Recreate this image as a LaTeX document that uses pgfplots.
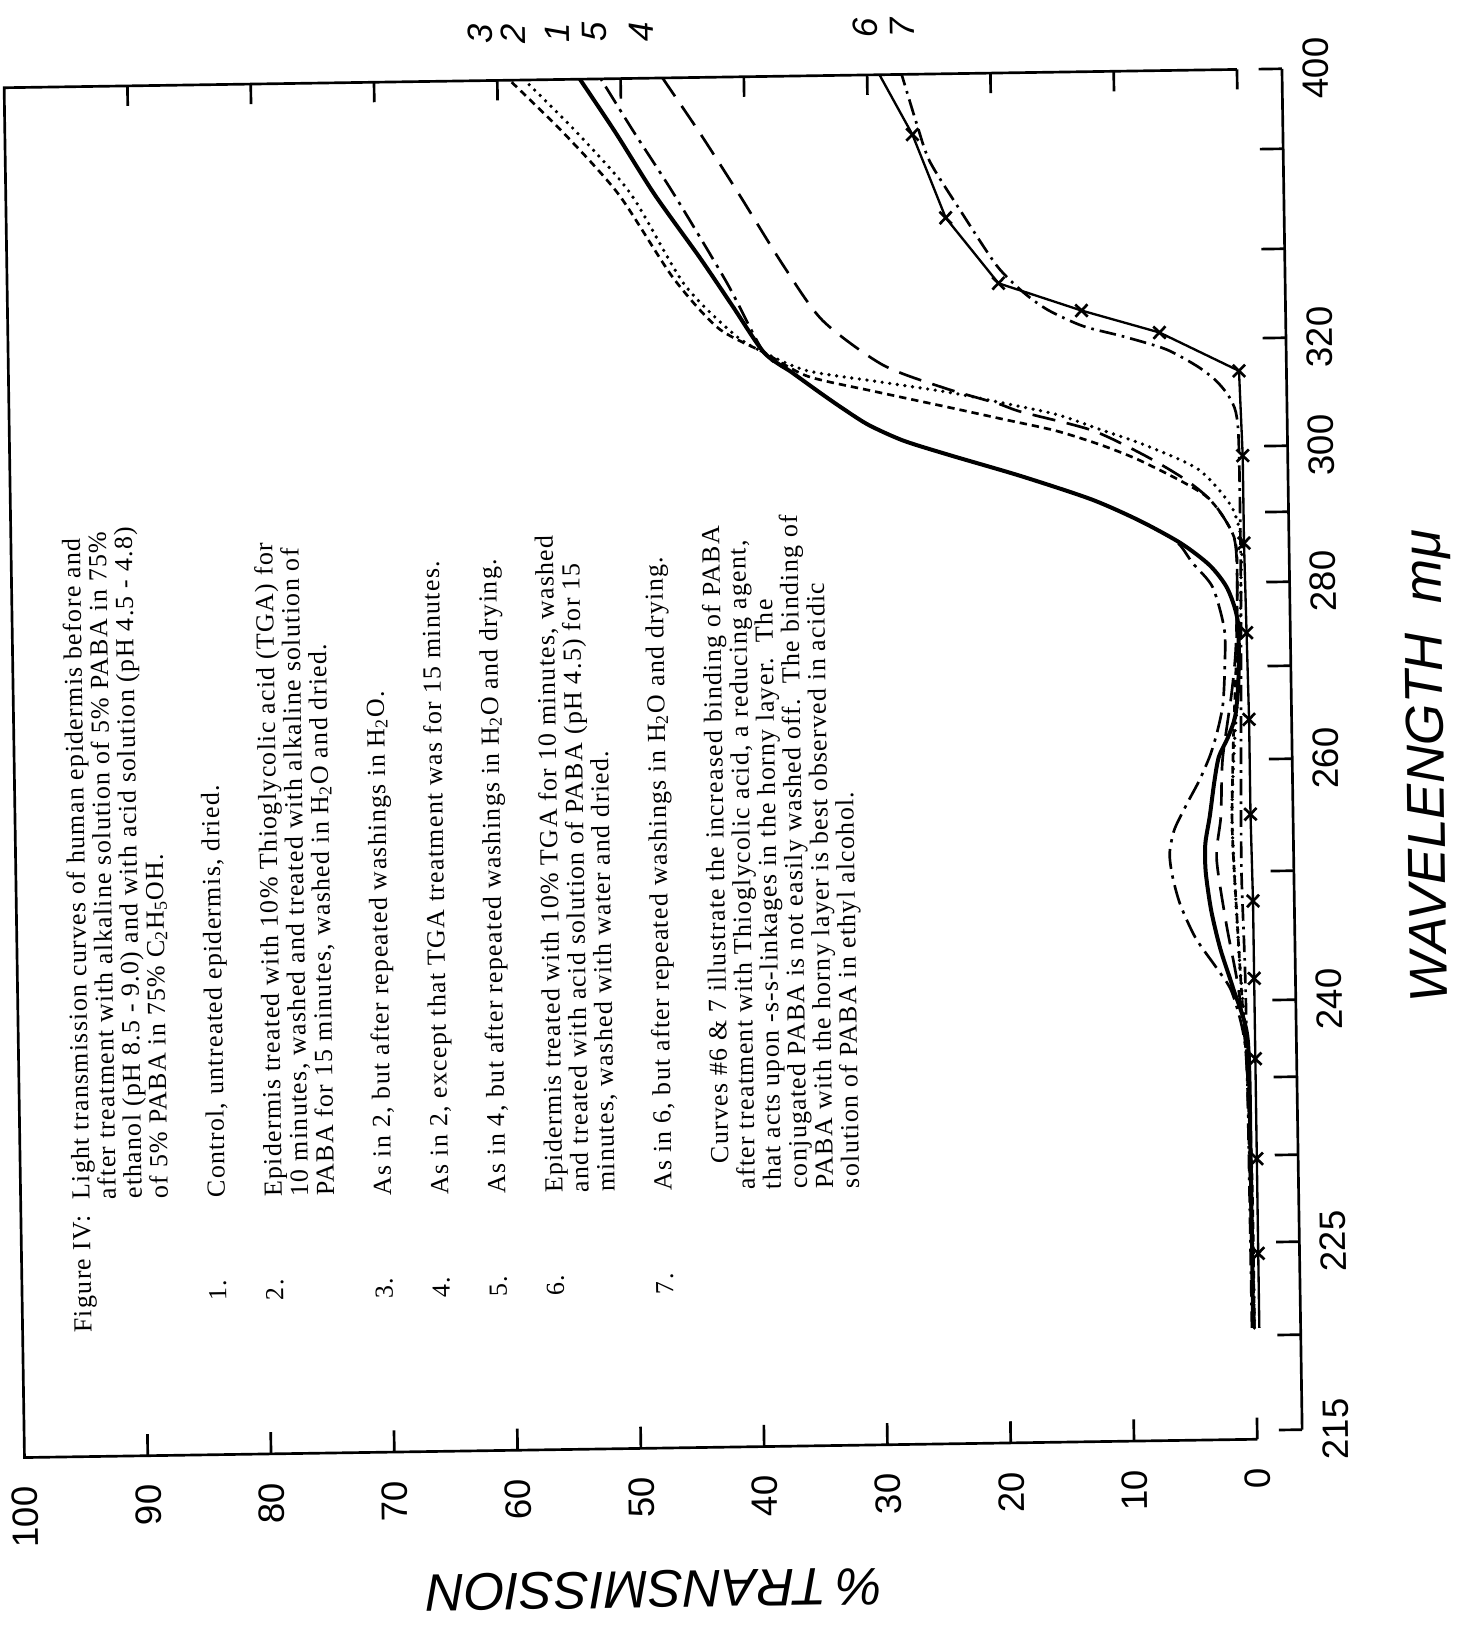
\documentclass[border=0pt]{standalone}
\usepackage{pgfplots}
\pgfplotsset{compat=1.18}
\usepackage{pgfplotstable}
\usepackage{fontspec}
\setmainfont{Liberation Serif}
\setsansfont{Liberation Sans}
\newfontfamily\typefont[LetterSpace=5]{Liberation Serif}

% columns: wavelength (m-mu), % transmission
\pgfplotstableread{
lam T
220.4 0.2
230 0.2
237.5 0.3
240.9 1.4
244 2.4
247 3.1
250 3.5
252.5 3.5
255 3.1
258 2.7
260.3 2.3
262.5 1.5
264.8 0.9
269 0.6
275.4 0.6
279.3 1.4
282.5 2.8
285.7 5.1
289 8.4
292.3 12.3
296.0 18.0
299.3 23.7
302 27.5
305 30.3
308 32.3
311.1 34.2
315 36.5
318.7 38.7
329 41.2
340 43.8
359.2 47.4
380 50.5
400 53.3
}\cone
\pgfplotstableread{
lam T
220.4 0.1
230 0.2
237 0.4
242 0.8
248 1.1
255 1.3
262 1.0
270 0.5
280 0.3
286.0 0.2
291.0 1.0
296.6 3.6
300.5 7.9
303.5 11.5
306.4 15.0
308.6 19.2
310.8 23.7
313 29.5
315.2 35.2
318.7 38.7
322.6 41.1
334.1 45.1
359.3 49.3
380 53.6
400 57.8
}\ctwo
\pgfplotstableread{
lam T
220.4 0.1
228 0.1
235 0.3
240 0.7
246 1.0
254 1.3
262 1.1
270 0.8
280 0.6
286.5 0.8
292.5 3.0
297.7 7.9
300.5 11.3
303.4 15.1
305.7 19.4
308.0 23.7
311.2 29.8
314.2 35.2
318.7 38.7
324.1 42.4
335.6 46.0
359.3 50.3
380 54.7
400 59.0
}\cthree
\pgfplotstableread{
lam T
220.4 0.1
228 0.2
236 0.4
241 1.0
246 1.9
251.2 2.6
255 2.2
260 2.0
267 1.2
272 0.8
280 0.6
286.4 0.8
291.4 2.4
295 4.6
298.8 7.9
303.4 12.2
307.0 17.9
308.6 19.8
311.7 24.2
316.1 29.1
325.4 33.9
337.8 37.0
358.6 40.5
378.9 43.6
400 46.6
}\cfour
\pgfplotstableread{
lam T
220.4 0.2
230 0.3
237 0.5
240.6 1.5
242.5 2.7
244.9 4.4
247.5 5.6
249.7 6.2
251.7 6.4
253.8 6.0
256 5.0
258.2 3.9
260.5 3.0
263 2.4
266 1.9
270.2 1.7
274.5 1.7
279.5 2.6
282.9 4.2
286 5.5
289 8.4
292.3 12.3
296.0 18.0
299.3 23.7
302 27.5
305 30.3
308 32.3
311.1 34.2
315 36.5
318.7 38.7
334.1 41.6
359.0 45.8
380 49.0
400 51.6
}\cfive
\pgfplotstableread{
lam T
220.4 -0.3
224.4 -0.3
229.8 -0.3
236.2 -0.3
241.7 -0.3
247.7 -0.3
255.1 -0.2
264.3 -0.2
274.0 -0.1
285.6 0
298.6 0
314.0 0.2
321.6 6.6
326.8 12.9
333.2 19.6
350.8 23.8
377.4 26.4
400 29.0
}\csix
\pgfplotstableread{
lam T
224.4 -0.3
229.8 -0.3
236.2 -0.3
241.7 -0.3
247.7 -0.3
255.1 -0.2
264.3 -0.2
274.0 -0.1
285.6 0
298.6 0
314.0 0.2
321.6 6.6
326.8 12.9
333.2 19.6
350.8 23.8
377.4 26.4
}\csixmarks
\pgfplotstableread{
lam T
220.4 0.3
240 0.4
250 0.6
260 0.5
280 0.3
300 0.3
306.3 0.5
309.5 1.1
312.3 2.1
315 3.6
318.2 6.1
320.8 9.5
323.3 12.8
327 15.6
331.1 17.6
337.1 19.7
351.7 22.4
367.6 25.0
380.8 26.0
400 27.2
}\cseven

\begin{document}
\begin{tikzpicture}
\path[use as bounding box] (-4.5pt,-54.3pt) rectangle (434.1pt,434.1pt);
\begin{scope}[transform canvas={rotate around={0.85:(215pt,190pt)}}]
\begin{axis}[
  at={(0pt,0pt)}, anchor=south west,
  scale only axis, width=383.4pt, height=411pt,
  x dir=reverse, xmin=-3.65, xmax=100,
  ymin=214.53, ymax=400,
  y coord trafo/.code={\pgfmathparse{(#1<220)?(-1438+19*(#1-215)):((#1<225)?(-1343+18.6*(#1-220)):((#1<230)?(-1250+17.4*(#1-225)):((#1<235)?(-1163+15.6*(#1-230)):((#1<240)?(-1085+15.4*(#1-235)):((#1<250)?(-1008+12.9*(#1-240)):((#1<260)?(-879+11.2*(#1-250)):((#1<270)?(-767+9.3*(#1-260)):((#1<280)?(-674+8.4*(#1-270)):((#1<290)?(-590+7*(#1-280)):((#1<300)?(-520+6.6*(#1-290)):((#1<320)?(-454+5.4*(#1-300)):((#1<340)?(-346+4.45*(#1-320)):((#1<370)?(-257+3.3333*(#1-340)):(-157+2.6667*(#1-370))))))))))))))))}},
  axis line style={draw=none},
  tick style={draw=none},
  major tick length=0pt,
  xtick={0,10,20,30,40,50,60,70,80,90,100},
  xticklabels={0,10,20,30,40,50,60,70,80,90,100},
  xticklabel style={rotate=90, anchor=east, inner sep=0pt, font=\sffamily\fontsize{11}{11}\selectfont},
  xticklabel shift=8.5pt,
  ytick={215,225,240,260,280,300,320,400},
  yticklabels={215,225,240,260,280,300,320,400},
  yticklabel pos=right,
  yticklabel style={rotate=90, anchor=north, inner sep=0pt, font=\sffamily\fontsize{11}{11}\selectfont},
  yticklabel shift=6pt,
  clip=false,
]
% frame
\draw[line width=0.8pt] (axis cs:0,400) -- (axis cs:100,400) -- (axis cs:100,214.53) -- (axis cs:0,214.53);
\pgfplotsinvokeforeach{0,10,20,30,40,50,60,70,80,90}{
  \draw[line width=0.8pt] (axis cs:#1,400) -- ++(0pt,-6pt);
  \draw[line width=0.8pt] (axis cs:#1,214.53) -- ++(0pt,6.5pt);
}
% wavelength scale
\draw[line width=0.8pt] (axis cs:-3.65,215) -- (axis cs:-3.65,400);
\pgfplotsinvokeforeach{215,220,225,230,235,240,250,260,270,280,290,300,320,340,370,400}{
  \draw[line width=0.8pt] (axis cs:-3.65,#1) -- ++(-7pt,0pt);
}
% curves
\addplot[black, line width=1.2pt, smooth, tension=0.45] table[x=T,y=lam] {\cone};
\addplot[black, line width=1.1pt, line cap=round, dash pattern=on 0pt off 2.3pt, smooth, tension=0.45] table[x=T,y=lam] {\ctwo};
\addplot[black, line width=0.8pt, dash pattern=on 2.2pt off 1.5pt, smooth, tension=0.45] table[x=T,y=lam] {\cthree};
\addplot[black, line width=0.8pt, dash pattern=on 7pt off 3.5pt, smooth, tension=0.45] table[x=T,y=lam] {\cfour};
\addplot[black, line width=0.8pt, dash pattern=on 6pt off 2pt on 1pt off 2pt, smooth, tension=0.45] table[x=T,y=lam] {\cfive};
\addplot[black, line width=0.7pt] table[x=T,y=lam] {\csix};
\addplot[black, only marks, mark=x, mark size=2.6pt, line width=0.8pt] table[x=T,y=lam] {\csixmarks};
\addplot[black, line width=0.8pt, dash pattern=on 5pt off 1.8pt on 0.8pt off 1.8pt, smooth, tension=0.45] table[x=T,y=lam] {\cseven};
\end{axis}

% axis titles
\node[rotate=90, font=\sffamily\itshape\fontsize{16}{16}\selectfont] at (424.8pt,201.2pt) {WAVELENGTH\ \ mμ};
\node[rotate=180, font=\sffamily\itshape\fontsize{15.8}{15.8}\selectfont] at (188.4pt,-42.4pt) {\%\,TRANSMISSION};

% curve numbers (handwritten)
\begin{scope}[every node/.style={rotate=90, font=\sffamily\itshape\fontsize{10.5}{10.5}\selectfont, inner sep=0pt}]
\node at (143.0pt,425.0pt) {3};
\node at (152.9pt,425.0pt) {2};
\node at (166.1pt,425.0pt) {1};
\node at (177.2pt,425.0pt) {5};
\node at (191.3pt,425.0pt) {4};
\node at (258.5pt,425.0pt) {6};
\node at (269.6pt,425.0pt) {7};
\end{scope}

% legend text
\node[rotate=90, anchor=north west, inner sep=0pt, font=\typefont\fontsize{7.8}{7.8}\selectfont] at (15pt,36.9pt) {%
\begin{tabular}{@{}p{40pt}@{}l@{}}
Figure IV: & Light transmission curves of human epidermis before and\\
 & after treatment with alkaline solution of 5\% PABA in 75\%\\
 & ethanol (pH 8.5 - 9.0) and with acid solution (pH 4.5 - 4.8)\\
 & of 5\% PABA in 75\% C\textsubscript{2}H\textsubscript{5}OH.\\[9.3pt]
\hspace{9pt}1. & Control, untreated epidermis, dried.\\[9.3pt]
\hspace{9pt}2. & Epidermis treated with 10\% Thioglycolic acid (TGA) for\\
 & 10 minutes, washed and treated with alkaline solution of\\
 & PABA for 15 minutes, washed in H\textsubscript{2}O and dried.\\[9.3pt]
\hspace{9pt}3. & As in 2, but after repeated washings in H\textsubscript{2}O.\\[9.3pt]
\hspace{9pt}4. & As in 2, except that TGA treatment was for 15 minutes.\\[9.3pt]
\hspace{9pt}5. & As in 4, but after repeated washings in H\textsubscript{2}O and drying.\\[9.3pt]
\hspace{9pt}6. & Epidermis treated with 10\% TGA for 10 minutes, washed\\
 & and treated with acid solution of PABA (pH 4.5) for 15\\
 & minutes, washed with water and dried.\\[9.3pt]
\hspace{9pt}7. & As in 6, but after repeated washings in H\textsubscript{2}O and drying.\\[9.3pt]
 & \hspace{8pt}Curves \#6 \& 7 illustrate the increased binding of PABA\\
 & after treatment with Thioglycolic acid, a reducing agent,\\
 & that acts upon -s-s-linkages in the horny layer.\ \ The\\
 & conjugated PABA is not easily washed off.\ \ The binding of\\
 & PABA with the horny layer is best observed in acidic\\
 & solution of PABA in ethyl alcohol.
\end{tabular}};
\end{scope}
\end{tikzpicture}
\end{document}
